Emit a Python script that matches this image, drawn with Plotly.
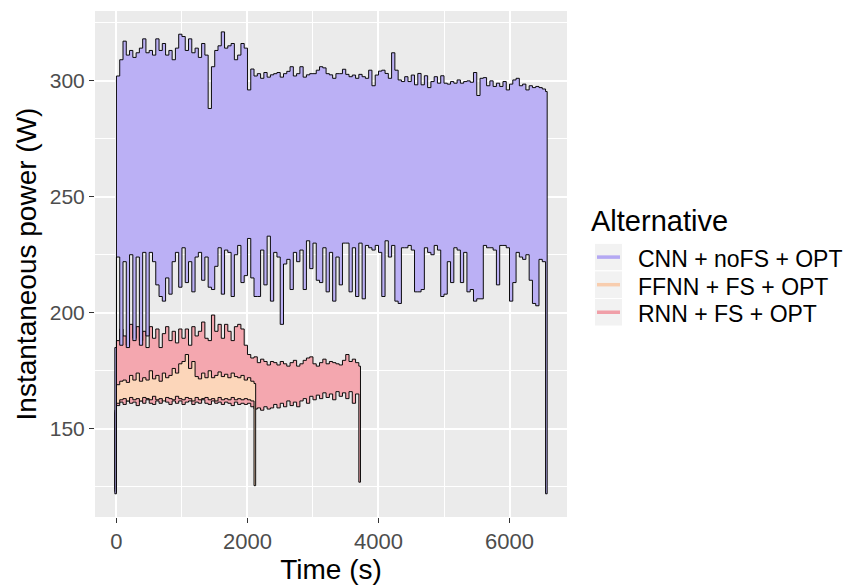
import plotly.graph_objects as go

# ---------------- data ----------------
SAMPLE_STEP = 50  # s between samples of the envelopes

CNN_TIME = list(range(0, 6551, SAMPLE_STEP))
CNN_UPPER = [
    302, 309, 317, 311, 313, 310, 312, 314, 318, 312,
    313, 311, 318, 313, 316, 311, 313, 309, 314, 320,
    319, 313, 318, 312, 314, 310, 316, 311, 288, 306,
    313, 315, 321, 314, 315, 316, 309, 311, 316, 314,
    296, 305, 302, 303, 301, 303.5, 301.5, 302.5, 303, 303.5,
    301.5, 303, 304, 306, 302, 303, 306, 301.5, 302.5, 303,
    303, 304.5, 306, 305.5, 303, 302.5, 301, 303, 303,
    304.9, 302.7, 301.7, 302.4, 301, 302.7, 301.7, 301, 304.5, 297.8,
    302.4, 304.1, 304.5, 303.1, 301, 312, 304.5, 300.3, 299.6, 301.7,
    299.6, 302.4, 298.2, 303.1, 298.2, 302.1, 297, 299.6, 301.7, 298.9,
    302.1, 298.9, 298.5, 299.6, 298.9, 300.3, 298.9, 299.6, 299.9, 299.3,
    303.5, 293.6, 301, 301.3, 297.8, 299.9, 297.5, 298.9, 297.5, 299.6,
    296, 298.5, 300.3, 301, 297.8, 298.5, 296, 297.8, 297, 297.5,
    297, 296.4, 295.3,
]
CNN_LOWER = [
    185, 224, 186, 222, 185, 225, 188, 224, 186, 226,
    190, 226, 222, 212, 207, 205, 215, 208, 222, 226,
    211, 228, 213, 222, 209, 224, 226, 214, 224, 211,
    210, 220, 228, 208, 227, 226, 207, 225, 229, 213,
    216, 232, 215, 207, 207, 227, 212, 233, 205, 226,
    224, 195, 221, 223, 210, 226, 222, 227, 210, 231,
    219, 230, 214, 213, 228, 209, 226, 205, 224,
    212, 230, 230, 209, 228, 207, 230, 206, 229, 228,
    227, 229, 226, 207, 231, 224, 229, 205, 204, 228,
    228, 229, 227, 209, 209, 210, 228, 226, 225, 229,
    227, 207, 208, 222, 213, 228, 227, 213, 226, 209,
    210, 205, 206, 206, 229, 228, 228, 227, 212, 229,
    229, 228, 205, 213, 226, 224, 223, 225, 214, 204,
    203, 223, 222,
]
CNN_FLOOR = [122, 122]  # start / end drop

FFNN_TIME = list(range(0, 2101, SAMPLE_STEP))
FFNN_UPPER = [
    169, 170.5, 171, 170, 173, 171, 174, 170.5, 172, 171,
    175, 171.5, 173, 170.5, 174, 172, 173, 176, 174, 178,
    179, 182, 176, 179, 172.5, 171.5, 174, 172, 175, 172,
    173, 174.5, 172.5, 173.5, 172, 174, 172.5, 172, 173, 171,
    172, 170.5, 169.5,
]
FFNN_LOWER = [
    158, 161, 162.5, 163, 162, 163.5, 162.5, 163, 162, 163.5,
    163, 162.5, 164, 162.5, 163, 162, 163.5, 163, 162.5, 164,
    163, 162.5, 163.5, 163, 162, 163.5, 162.5, 163, 163.5, 162.5,
    163, 162, 163.5, 162.5, 163, 162.5, 163.5, 162.5, 163, 162.5,
    163, 162.5, 162,
]
FFNN_FLOOR = [124, 125.5]

RNN_TIME = list(range(0, 3701, SAMPLE_STEP))
RNN_UPPER = [
    188, 193, 190, 186, 195, 189, 194, 188, 192, 185,
    194, 189, 193, 185, 191, 194, 188, 192, 187, 193,
    189, 193, 186, 194, 190, 192, 196, 189, 188, 199,
    192, 195, 189, 195, 192, 188, 194, 195, 193, 186,
    182, 180.5, 181, 178.5, 180, 179, 177.5, 179, 178.5, 177.5,
    179, 178, 177, 178.5, 179.5, 177, 178, 179.5, 180.5, 181,
    178, 177, 178.5, 180, 178, 179, 178.5, 178, 177.5, 179.5,
    182, 179, 180, 178.5, 177,
]
RNN_LOWER = [
    157, 160, 161.5, 160.5, 162, 161, 161.5, 160, 162, 161,
    162.5, 161, 160.5, 162, 161, 162.5, 161.5, 160.5, 162, 161,
    162, 160.5, 161.5, 162, 160.5, 161.5, 161, 162.5, 161, 160.5,
    162, 161, 161.5, 160.5, 161.5, 161, 160, 161.5, 160.5, 161,
    160.5, 161, 159.5, 158.5, 159, 158, 159.5, 158.5, 159, 160.5,
    159, 161, 159.5, 162, 160, 161.5, 159.5, 162, 163, 161,
    164, 162.5, 164.5, 163, 165.5, 163.5, 165, 162.5, 166, 164,
    165.5, 163, 166, 161, 165,
]
RNN_FLOOR = [123, 127]

LEGEND_TITLE = "Alternative"
LABELS = ["CNN + noFS + OPT", "FFNN + FS + OPT", "RNN + FS + OPT"]
X_TICKS = [0, 2000, 4000, 6000]
Y_TICKS = [150, 200, 250, 300]

# ---------------- styles ----------------
FILL = {"CNN": "#BBB0F5", "FFNN": "#FCD6BA", "RNN": "#F4A7AF"}
KEY = {"CNN": "#B4A8F3", "FFNN": "#F8CDAE", "RNN": "#F09FA8"}
EDGE_PAD = 25  # s, width of the start/end drop column
FONT = "Liberation Sans, Arial, Helvetica, sans-serif"

W, H = 845, 586
ML, MR, MT, MB = 95, 278, 11, 61
PW, PH = W - ML - MR, H - MT - MB


def px(x):
    return (x - ML) / PW


def py(y):
    return (H - MB - y) / PH


def polygon(t, upper, lower, floor):
    x = [t[0] - EDGE_PAD] + t + [t[-1] + EDGE_PAD] + t[::-1] + [t[0] - EDGE_PAD]
    y = [floor[0]] + upper + [floor[1]] + lower[::-1] + [floor[0]]
    return x, y


fig = go.Figure()
series = [
    ("RNN", RNN_TIME, RNN_UPPER, RNN_LOWER, RNN_FLOOR, LABELS[2]),
    ("FFNN", FFNN_TIME, FFNN_UPPER, FFNN_LOWER, FFNN_FLOOR, LABELS[1]),
    ("CNN", CNN_TIME, CNN_UPPER, CNN_LOWER, CNN_FLOOR, LABELS[0]),
]
for key, t, up, lo, fl, name in series:
    x, y = polygon(t, up, lo, fl)
    fig.add_trace(go.Scatter(
        x=x, y=y, mode="lines", fill="toself", fillcolor=FILL[key],
        line=dict(color="rgba(0,0,0,0.95)", width=1.0, shape="hv"),
        name=name, showlegend=False, hoverinfo="skip",
    ))

# ---- ggplot-style legend (keys + labels) ----
shapes = []
annotations = [dict(
    x=px(589), y=py(224), xref="paper", yref="paper", xanchor="left", yanchor="middle",
    text=LEGEND_TITLE, showarrow=False, font=dict(size=29, color="black"),
)]
row_centres = [261, 289, 317]
for key, label, yc in zip(["CNN", "FFNN", "RNN"], LABELS, row_centres):
    shapes.append(dict(
        type="rect", xref="paper", yref="paper",
        x0=px(594.5), x1=px(622.5), y0=py(yc + 14), y1=py(yc - 14),
        fillcolor="#F2F2F2", line=dict(color="white", width=1), layer="above",
    ))
    shapes.append(dict(
        type="line", xref="paper", yref="paper",
        x0=px(597), x1=px(620), y0=py(yc), y1=py(yc),
        line=dict(color=KEY[key], width=3.5), layer="above",
    ))
    annotations.append(dict(
        x=px(636), y=py(yc + 2), xref="paper", yref="paper", xanchor="left", yanchor="middle",
        text=label, showarrow=False, font=dict(size=23, color="black"),
    ))

fig.update_layout(
    width=W, height=H,
    margin=dict(l=ML, r=MR, t=MT, b=MB),
    paper_bgcolor="white", plot_bgcolor="#EBEBEB",
    font=dict(family=FONT, color="black"),
    showlegend=False,
    shapes=shapes, annotations=annotations,
)
fig.update_xaxes(
    range=[-327.5, 6877.5], tickvals=X_TICKS,
    ticks="outside", ticklen=5, tickwidth=1.1, tickcolor="#333333",
    tickfont=dict(size=22, color="#4D4D4D"),
    showgrid=True, gridcolor="white", gridwidth=1.5,
    minor=dict(tickvals=[1000, 3000, 5000], showgrid=True, gridcolor="white", gridwidth=0.7, ticks=""),
    zeroline=False, showline=False,
    title=dict(text="Time (s)", font=dict(size=28, color="black"), standoff=1),
)
fig.update_yaxes(
    range=[112, 330], tickvals=Y_TICKS,
    ticks="outside", ticklen=5, tickwidth=1.1, tickcolor="#333333",
    tickfont=dict(size=21, color="#4D4D4D"),
    showgrid=True, gridcolor="white", gridwidth=1.5,
    minor=dict(tickvals=[125, 175, 225, 275, 325], showgrid=True, gridcolor="white", gridwidth=0.7, ticks=""),
    zeroline=False, showline=False,
    title=dict(text="Instantaneous power (W)", font=dict(size=28, color="black"), standoff=4),
)

fig.write_html("out.html")
